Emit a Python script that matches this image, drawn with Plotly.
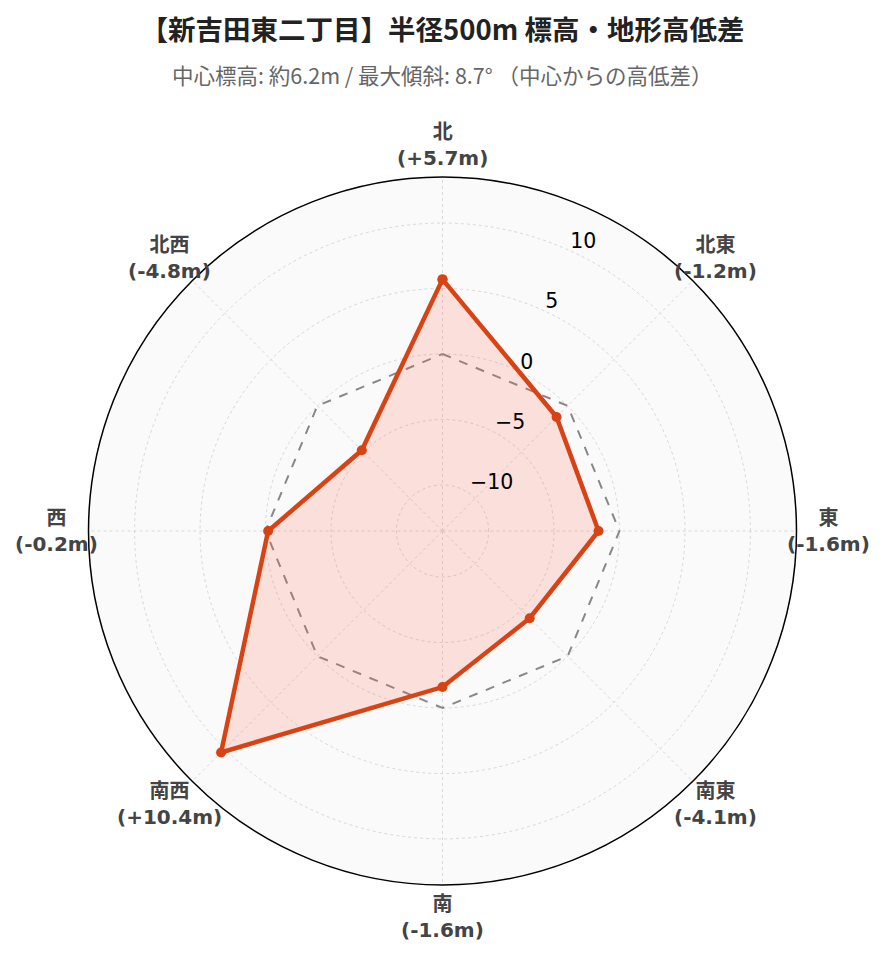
import math
import plotly.graph_objects as go

# 方位ごとの中心からの高低差 (m)
directions = ['北', '北東', '東', '南東', '南', '南西', '西', '北西']
diffs = [5.7, -1.2, -1.6, -4.1, -1.6, 10.4, -0.2, -4.8]
zero_line = [0, 0, 0, 0, 0, 0, 0, 0]
radial_range = [-13.52, 13.52]
radial_ticks = [-10, -5, 0, 5, 10]

theta = directions + directions[:1]

# 目盛りラベル (空行を足して少し上に寄せる)
radial_text = ['%s<br> ' % str(t).replace('-', '\u2212') for t in radial_ticks]

fig = go.Figure()

# 基準線 (中心と同じ高さ)
fig.add_trace(go.Scatterpolar(
    r=zero_line + zero_line[:1],
    theta=theta,
    mode='lines',
    line=dict(color='#888888', width=2, dash='dash'),
    hoverinfo='skip',
    showlegend=False,
))

fig.add_trace(go.Scatterpolar(
    r=diffs + diffs[:1],
    theta=theta,
    mode='lines+markers',
    fill='toself',
    fillcolor='rgba(255,99,71,0.18)',
    line=dict(color='#d84315', width=4.5),
    marker=dict(size=10, color='#d84315'),
    showlegend=False,
))

# 方位ラベルは円の外側に中央揃えで置く
annotations = []
for i, (d, v) in enumerate(zip(directions, diffs)):
    a = math.radians(90 - 45 * i)
    annotations.append(dict(
        text='<b>%s<br>(%+.1fm)</b>' % (d, v),
        xref='paper', yref='paper',
        x=0.5 + 386 / 709 * math.cos(a), y=0.5 + 386 / 708 * math.sin(a),
        xanchor='center', yanchor='middle', showarrow=False,
        font=dict(family='DejaVu Sans, Noto Sans CJK JP', size=20, color='#444444'),
    ))

annotations.append(dict(
    text='中心標高: 約6.2m / 最大傾斜: 8.7° （中心からの高低差）',
    xref='paper', yref='paper', x=0.5, y=(946 - 69 - 66) / 708,
    xanchor='center', yanchor='middle', showarrow=False,
    font=dict(family='Noto Sans CJK JP', size=21.5, color='#666666'),
))

fig.update_layout(
    width=869,
    height=946,
    paper_bgcolor='white',
    margin=dict(l=80, r=80, t=169, b=69),
    font=dict(family='DejaVu Sans, Noto Sans CJK JP'),
    title=dict(
        text='<b>【新吉田東二丁目】半径500m 標高・地形高低差</b>',
        x=0.5, xanchor='center',
        yref='container', y=1 - 22 / 946, yanchor='middle',
        font=dict(family='Noto Sans CJK JP', size=27.5, color='#222222'),
    ),
    annotations=annotations,
    polar=dict(
        bgcolor='#fafafa',
        angularaxis=dict(
            direction='clockwise',
            rotation=90,
            showticklabels=False,
            showline=True,
            linecolor='black',
            linewidth=1.5,
            gridcolor='#d8d8d8',
            griddash='dot',
            ticks='',
        ),
        radialaxis=dict(
            range=radial_range,
            tickmode='array',
            tickvals=radial_ticks,
            ticktext=radial_text,
            angle=67.5,
            tickangle=67.5,
            showline=False,
            ticks='',
            tickfont=dict(family='DejaVu Sans', size=20.5, color='black'),
            gridcolor='#d8d8d8',
            griddash='dot',
        ),
    ),
)

fig.write_html('out.html')
